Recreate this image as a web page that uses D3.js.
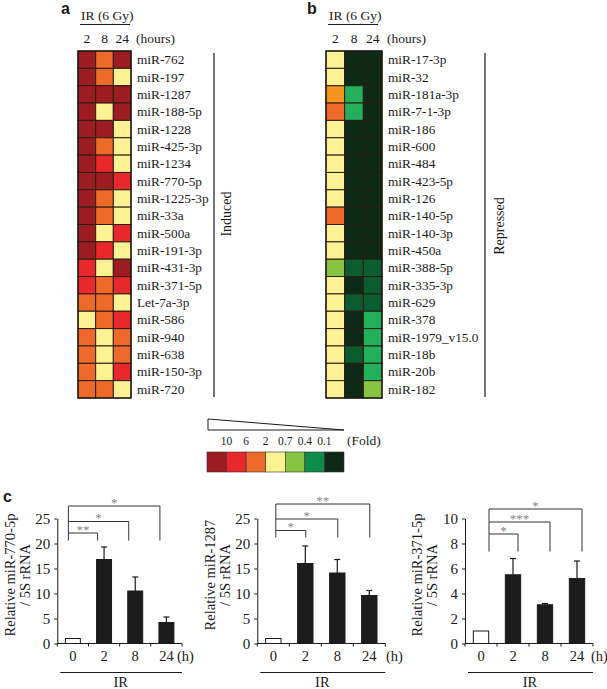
<!DOCTYPE html>
<html><head><meta charset="utf-8">
<script src="https://cdn.jsdelivr.net/npm/d3@7"></script>
<style>
body{margin:0;background:#fff}
svg{display:block}
text{font-family:"Liberation Serif","Times New Roman",serif;fill:#1a1a1a}
</style>
</head><body>
<svg id="fig" width="607" height="689"></svg>
<script>
// ---------------- DATA ----------------
const hours = ["2", "8", "24"];
const inducedMiRs = ["miR-762","miR-197","miR-1287","miR-188-5p","miR-1228","miR-425-3p","miR-1234","miR-770-5p","miR-1225-3p","miR-33a","miR-500a","miR-191-3p","miR-431-3p","miR-371-5p","Let-7a-3p","miR-586","miR-940","miR-638","miR-150-3p","miR-720"];
const inducedLevels = [["DR","O","DR"],["DR","O","Y"],["DR","DR","DR"],["DR","Y","DR"],["DR","DR","Y"],["DR","O","Y"],["DR","R","Y"],["DR","DR","R"],["DR","O","Y"],["DR","O","Y"],["DR","Y","R"],["DR","R","Y"],["R","Y","DR"],["R","O","R"],["O","O","Y"],["Y","O","R"],["O","Y","O"],["O","Y","O"],["O","Y","R"],["O","O","Y"]];
const repressedMiRs = ["miR-17-3p","miR-32","miR-181a-3p","miR-7-1-3p","miR-186","miR-600","miR-484","miR-423-5p","miR-126","miR-140-5p","miR-140-3p","miR-450a","miR-388-5p","miR-335-3p","miR-629","miR-378","miR-1979_v15.0","miR-18b","miR-20b","miR-182"];
const repressedLevels = [["Y","DG","DG"],["Y","DG","DG"],["A","MG","DG"],["O","MG","DG"],["Y","DG","DG"],["Y","DG","DG"],["Y","DG","DG"],["Y","DG","DG"],["Y","DG","DG"],["O","DG","DG"],["Y","DG","DG"],["Y","DG","DG"],["LG","G2","G2"],["Y","DG","G2"],["Y","G2","G2"],["Y","DG","MG"],["Y","DG","MG"],["Y","G2","MG"],["Y","DG","MG"],["Y","DG","LG"]];
const foldLabels = ["10", "6", "2", "0.7", "0.4", "0.1"];
const legendLevels = ["DR","R","O","Y","LG","G","DG"];

const irTimes = ["0", "2", "8", "24"];
const qpcrTargets = ["miR-770-5p", "miR-1287", "miR-371-5p"];
const mir770Mean = [1, 16.8, 10.5, 4.2];
const mir770Err  = [0, 2.5, 2.8, 1.1];
const mir1287Mean = [1, 16.0, 14.1, 9.6];
const mir1287Err  = [0, 3.5, 2.7, 1.0];
const mir371Mean = [1, 5.5, 3.1, 5.2];
const mir371Err  = [0, 1.3, 0.1, 1.4];
const mir770Sig = ["**", "*", "*"];
const mir1287Sig = ["*", "*", "**"];
const mir371Sig = ["*", "***", "*"];
const yTicks25 = [0, 5, 10, 15, 20, 25];
const yTicks10 = [0, 2, 4, 6, 8, 10];

// ---------------- STYLE ----------------
const palette = {DR:"#9d1c21", R:"#e8282b", O:"#ee6a2a", A:"#f6921e", Y:"#fdf293",
                 LG:"#86c441", MG:"#22b05a", G:"#0d8c49", G2:"#0b5c2f", DG:"#0c2a15"};
const color = d3.scaleOrdinal().domain(Object.keys(palette)).range(Object.values(palette));

const svg = d3.select("#fig");
const sans = "'Liberation Sans', Arial, sans-serif";

// ---------------- HEATMAPS ----------------
function heatmap(cfg){
  const g = svg.append("g");
  const x = d3.scaleBand().domain(hours).range([cfg.x0, cfg.x1]);
  const y = d3.scaleBand().domain(cfg.miRs).range([cfg.y0, cfg.y1]);
  g.append("text").attr("x", cfg.letterX).attr("y", 14).text(cfg.letter)
    .style("font-family", sans).style("font-weight", "bold").style("font-size", "16px");
  g.append("text").attr("x", cfg.irX).attr("y", 20).text("IR (6 Gy)").style("font-size", "13.5px");
  g.append("line").attr("x1", cfg.irX - 1).attr("x2", cfg.irX + 49).attr("y1", 24.5).attr("y2", 24.5)
    .attr("stroke", "#1a1a1a").attr("stroke-width", 1.2);
  g.selectAll(".h").data(hours).join("text")
    .attr("x", d => x(d) + x.bandwidth() / 2).attr("y", 43).attr("text-anchor", "middle")
    .style("font-size", "13.5px").text(d => d);
  g.append("text").attr("x", cfg.x1 + 5).attr("y", 43).text("(hours)").style("font-size", "13.5px");
  const cells = [];
  cfg.miRs.forEach((m, i) => hours.forEach((h, j) => cells.push({m, h, v: cfg.levels[i][j]})));
  g.selectAll("rect.cell").data(cells).join("rect")
    .attr("x", d => x(d.h)).attr("y", d => y(d.m))
    .attr("width", x.bandwidth()).attr("height", y.bandwidth())
    .attr("fill", d => color(d.v)).attr("stroke", "#2a1c14").attr("stroke-width", 1);
  g.append("rect").attr("x", cfg.x0).attr("y", cfg.y0).attr("width", cfg.x1 - cfg.x0).attr("height", cfg.y1 - cfg.y0)
    .attr("fill", "none").attr("stroke", "#1e1410").attr("stroke-width", 1.3);
  g.selectAll("text.lab").data(cfg.miRs).join("text")
    .attr("x", cfg.x1 + 6).attr("y", d => y(d) + y.bandwidth() / 2 + 4.5)
    .style("font-size", "13.3px").text(d => d);
  g.append("line").attr("x1", cfg.lineX).attr("x2", cfg.lineX).attr("y1", cfg.y0 + 2).attr("y2", cfg.y1 - 1)
    .attr("stroke", "#1a1a1a").attr("stroke-width", 1.2);
  g.append("text").attr("transform", `translate(${cfg.sideX},${cfg.sideY}) rotate(-90)`)
    .attr("text-anchor", "middle").style("font-size", "14px").text(cfg.side);
}
heatmap({letter:"a", letterX:61, irX:81, x0:78, x1:131, y0:51, y1:398, miRs:inducedMiRs, levels:inducedLevels,
         lineX:214, side:"Induced", sideX:231, sideY:214});
heatmap({letter:"b", letterX:307, irX:329, x0:326, x1:382, y0:51, y1:398, miRs:repressedMiRs, levels:repressedLevels,
         lineX:485, side:"Repressed", sideX:504, sideY:226});

// ---------------- LEGEND ----------------
{
  const lx = d3.scaleBand().domain(legendLevels).range([207, 344]);
  const g = svg.append("g");
  g.append("path").attr("d", `M${lx.range()[0] + 1},419 L${lx.range()[1]},430 L${lx.range()[0] + 1},430 Z`)
    .attr("fill", "#fff").attr("stroke", "#1a1a1a").attr("stroke-width", 1);
  g.selectAll("text.fl").data(foldLabels).join("text")
    .attr("x", (d, i) => lx(legendLevels[i + 1])).attr("y", 444.5).attr("text-anchor", "middle")
    .style("font-size", "11.5px").text(d => d);
  g.append("text").attr("x", 347).attr("y", 444.5).style("font-size", "13.5px").text("(Fold)");
  g.selectAll("rect.lg").data(legendLevels).join("rect")
    .attr("x", d => lx(d)).attr("y", 452).attr("width", lx.bandwidth()).attr("height", 20)
    .attr("fill", d => color(d)).attr("stroke", "#3a3030").attr("stroke-width", 0.6);
}

// ---------------- BAR CHARTS ----------------
svg.append("text").attr("x", 3).attr("y", 502).text("c")
  .style("font-family", sans).style("font-weight", "bold").style("font-size", "16px");

function barChart(cfg){
  const g = svg.append("g");
  const y = d3.scaleLinear().domain([0, cfg.max]).range([643.5, 518.5]);
  const x = d3.scaleBand().domain(irTimes).range([cfg.xL, cfg.xR]).paddingInner(0.52).paddingOuter(0.26);
  const step = x.step();
  // y axis
  const ya = g.append("g").attr("transform", `translate(${cfg.xL},0)`)
    .call(d3.axisLeft(y).tickValues(cfg.ticks).tickSize(3).tickSizeOuter(0).tickPadding(4));
  ya.select(".domain").attr("stroke", "#1a1a1a");
  ya.selectAll("line").attr("stroke", "#1a1a1a");
  ya.selectAll("text").style("font-family", "'Liberation Serif',serif").style("font-size", "15px").attr("fill", "#1a1a1a");
  // x axis
  g.append("line").attr("x1", cfg.xL).attr("x2", cfg.xR).attr("y1", y(0)).attr("y2", y(0)).attr("stroke", "#1a1a1a");
  g.selectAll("line.xt").data(d3.range(irTimes.length + 1)).join("line")
    .attr("x1", i => cfg.xL + i * step).attr("x2", i => cfg.xL + i * step)
    .attr("y1", y(0)).attr("y2", y(0) + 3).attr("stroke", "#1a1a1a");
  g.selectAll("text.xl").data(irTimes).join("text")
    .attr("x", d => x(d) + x.bandwidth() / 2).attr("y", 661).attr("text-anchor", "middle")
    .style("font-size", "14.5px").text(d => d);
  g.append("text").attr("x", cfg.hX).attr("y", 661).style("font-size", "14.5px").text("(h)");
  g.append("line").attr("x1", cfg.xL + 3).attr("x2", cfg.xR).attr("y1", 672.5).attr("y2", 672.5)
    .attr("stroke", "#1a1a1a").attr("stroke-width", 1.1);
  g.append("text").attr("x", (cfg.xL + cfg.xR) / 2 + 1).attr("y", 687).attr("text-anchor", "middle")
    .style("font-size", "14.5px").text("IR");
  // bars
  const data = irTimes.map((t, i) => ({t, m: cfg.mean[i], e: cfg.err[i], i}));
  g.selectAll("rect.bar").data(data).join("rect")
    .attr("x", d => x(d.t)).attr("width", x.bandwidth())
    .attr("y", d => y(d.m)).attr("height", d => y(0) - y(d.m))
    .attr("fill", d => d.i === 0 ? "#fff" : "#1c1c1c").attr("stroke", "#1a1a1a").attr("stroke-width", 1);
  const eb = data.filter(d => d.e > 0);
  g.selectAll("line.eb").data(eb).join("line")
    .attr("x1", d => x(d.t) + x.bandwidth() / 2).attr("x2", d => x(d.t) + x.bandwidth() / 2)
    .attr("y1", d => y(d.m)).attr("y2", d => y(d.m + d.e)).attr("stroke", "#1a1a1a").attr("stroke-width", 1.2);
  g.selectAll("line.cap").data(eb).join("line")
    .attr("x1", d => x(d.t) + x.bandwidth() / 2 - 3).attr("x2", d => x(d.t) + x.bandwidth() / 2 + 3)
    .attr("y1", d => y(d.m + d.e)).attr("y2", d => y(d.m + d.e)).attr("stroke", "#1a1a1a").attr("stroke-width", 1.2);
  // significance brackets
  const cx = t => x(t) + x.bandwidth() / 2 + cfg.bOff;
  const x0b = cfg.xL + step / 2 + cfg.bOff0;
  g.append("line").attr("x1", x0b).attr("x2", x0b).attr("y1", cfg.bTops[2]).attr("y2", cfg.bBot)
    .attr("stroke", "#333").attr("stroke-width", 1);
  cfg.sig.forEach((s, k) => {
    const t = irTimes[k + 1];
    g.append("path").attr("d", `M${x0b},${cfg.bTops[k]} H${cx(t)} V${cfg.bBot}`)
      .attr("fill", "none").attr("stroke", "#333").attr("stroke-width", 1);
    g.append("text").attr("x", (x0b + cx(t)) / 2).attr("y", cfg.bTops[k] + 0.5).attr("text-anchor", "middle")
      .style("font-size", "13px").style("fill", "#858585").text(s);
  });
  // y label
  g.append("text").attr("transform", `translate(${cfg.labX},575) rotate(-90)`).attr("text-anchor", "middle")
    .style("font-size", "14.5px").text("Relative " + cfg.name);
  g.append("text").attr("transform", `translate(${cfg.labX + 15},575) rotate(-90)`).attr("text-anchor", "middle")
    .style("font-size", "14.5px").text("/ 5S rRNA");
}
barChart({name: qpcrTargets[0], mean: mir770Mean, err: mir770Err, sig: mir770Sig, max: 25, ticks: yTicks25,
  xL: 57.3, xR: 182, hX: 177, labX: 15, bOff: -6.5, bOff0: -4.5, bTops: [533, 521.5, 506], bBot: 540.5});
barChart({name: qpcrTargets[1], mean: mir1287Mean, err: mir1287Err, sig: mir1287Sig, max: 25, ticks: yTicks25,
  xL: 257.3, xR: 385.3, hX: 386, labX: 215, bOff: 0.5, bOff0: 2.5, bTops: [530.5, 519, 504], bBot: 537.5});
barChart({name: qpcrTargets[2], mean: mir371Mean, err: mir371Err, sig: mir371Sig, max: 10, ticks: yTicks10,
  xL: 465, xR: 593, hX: 591, labX: 422, bOff: 5, bOff0: 8, bTops: [534, 522, 509], bBot: 551.5});
</script>
</body></html>
